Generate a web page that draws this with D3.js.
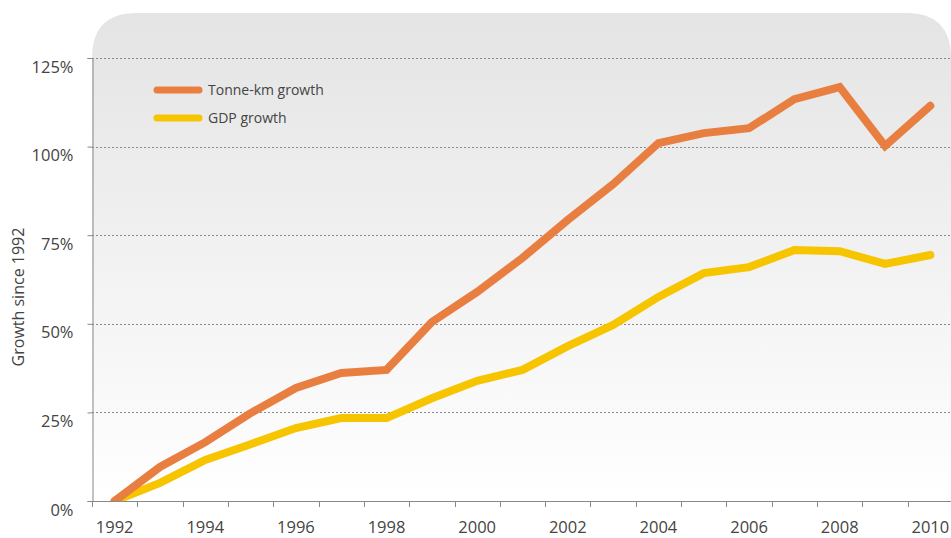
<!DOCTYPE html>
<html><head><meta charset="utf-8">
<script src="https://cdn.jsdelivr.net/npm/d3@7"></script>
<style>body{margin:0;background:#fff}svg{display:block}text{font-family:"Open Sans",sans-serif}</style>
</head><body><svg id="c" width="951" height="538"></svg>
<script>
const years = [1992,1993,1994,1995,1996,1997,1998,1999,2000,2001,2002,2003,2004,2005,2006,2007,2008,2009,2010];
const tonneKm = [0,9.6,16.6,24.8,31.9,36.1,37,50.5,59,68.6,79.3,89.4,101,103.8,105.2,113.4,116.8,100.2,111.5];
const gdp = [0,5.1,11.6,16,20.6,23.4,23.4,29,33.9,37,43.7,49.7,57.6,64.3,66,70.8,70.5,66.9,69.4];
const yTicks = [0,25,50,75,100,125];
const xLabels = [1992,1994,1996,1998,2000,2002,2004,2006,2008,2010];
const seriesNames = ["Tonne-km growth","GDP growth"];
const seriesColors = ["#e97e41","#f6c500"];

const svg = d3.select("#c");
const L=92, R=953, T=58, B=501;
const x = d3.scaleBand().domain(years).range([L,R]);
const y = d3.scaleLinear().domain([0,125]).range([B,T]);

const defs = svg.append("defs");
const g = defs.append("linearGradient").attr("id","bg").attr("x1",0).attr("y1",0).attr("x2",0).attr("y2",1);
g.append("stop").attr("offset","0%").attr("stop-color","#e4e4e4");
g.append("stop").attr("offset","100%").attr("stop-color","#ffffff");
const rad=45, topY=13, rightX=951;
svg.append("path").attr("fill","url(#bg)")
  .attr("d",`M${L},${B} L${L},${topY+rad} Q${L},${topY} ${L+rad},${topY} L${rightX-rad},${topY} Q${rightX},${topY} ${rightX},${topY+rad} L${rightX},${B} Z`);

// gridlines
svg.append("g").selectAll("line").data(yTicks.filter(d=>d>0)).join("line")
  .attr("x1",L).attr("x2",951).attr("y1",d=>Math.round(y(d))+0.5).attr("y2",d=>Math.round(y(d))+0.5)
  .attr("stroke","#8a8a8a").attr("stroke-width",1).attr("stroke-dasharray","2,2");

// y axis
const ya = svg.append("g").attr("transform",`translate(${L+0.5},0)`)
  .call(d3.axisLeft(y).tickValues(yTicks).tickFormat(d=>d+"%").tickSize(5).tickPadding(14));
ya.select(".domain").attr("stroke","#888");
ya.selectAll(".tick line").attr("stroke","#888");
ya.selectAll(".tick text").style("font-size","16.5px").style("fill","#444")
  .style("font-family","'Open Sans', sans-serif").attr("dy","0.85em");

// x axis
const xa = svg.append("g");
xa.append("line").attr("x1",L).attr("x2",951).attr("y1",B+0.5).attr("y2",B+0.5).attr("stroke","#888");
xa.selectAll("line.t").data(years).join("line").attr("class","t")
  .attr("x1",d=>Math.round(x(d))+0.5).attr("x2",d=>Math.round(x(d))+0.5).attr("y1",B).attr("y2",B+6).attr("stroke","#888");
xa.selectAll("text").data(xLabels).join("text")
  .attr("x",d=>x(d)+x.bandwidth()/2).attr("y",533).attr("text-anchor","middle")
  .style("font-size","16.5px").attr("fill","#444").text(d=>d);

// y title
svg.append("text").attr("transform","translate(24,297) rotate(-90)").attr("text-anchor","middle")
  .style("font-size","16px").attr("fill","#444").text("Growth since 1992");

// lines
const line = d3.line().x((d,i)=>x(years[i])+x.bandwidth()/2).y(d=>y(d));
svg.append("clipPath").attr("id","clip").append("rect").attr("x",L).attr("y",0).attr("width",900).attr("height",B);
[gdp,tonneKm].forEach((s,k)=>{
  const idx = k===0?1:0;
  svg.append("path").datum(s).attr("d",line).attr("fill","none")
    .attr("stroke",seriesColors[idx]).attr("stroke-width",8).attr("stroke-linejoin","miter").attr("stroke-linecap","round")
    .attr("clip-path","url(#clip)");
});

// legend
const lg = svg.append("g");
seriesNames.forEach((n,i)=>{
  const yy = 90 + i*28;
  lg.append("line").attr("x1",157).attr("x2",199).attr("y1",yy).attr("y2",yy)
    .attr("stroke",seriesColors[i]).attr("stroke-width",7).attr("stroke-linecap","round");
  lg.append("text").attr("x",208).attr("y",yy+5).style("font-size","14px").attr("fill","#444").text(n);
});
</script></body></html>
